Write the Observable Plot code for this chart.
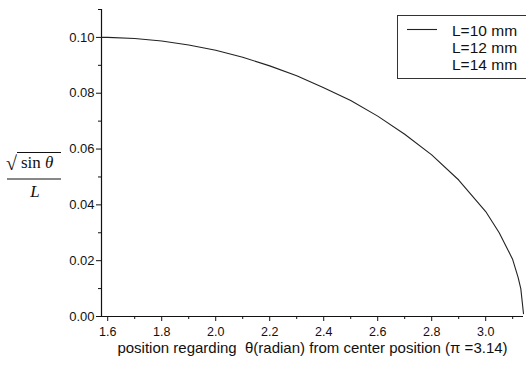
<!DOCTYPE html>
<html>
<head>
<meta charset="utf-8">
<script src="https://cdn.jsdelivr.net/npm/d3@7"></script>
<script src="https://cdn.jsdelivr.net/npm/@observablehq/plot@0.6"></script>
<style>
  html, body { margin: 0; padding: 0; background: #fff; }
  #chart svg { display: block; }
</style>
</head>
<body>
<div id="chart"></div>
<script>
// Read-off values of the visible curve (L = 10 mm)
const theta = [1.577, 1.6, 1.7, 1.8, 1.9, 2.0, 2.1, 2.2, 2.3, 2.4, 2.5, 2.6, 2.7, 2.8, 2.9, 3.0, 3.05, 3.08, 3.1, 3.12, 3.13, 3.14];
const value = [0.1000, 0.1000, 0.0996, 0.0987, 0.0973, 0.0954, 0.0929, 0.0898, 0.0863, 0.0820, 0.0774, 0.0718, 0.0653, 0.0579, 0.0489, 0.0376, 0.0300, 0.0243, 0.0204, 0.0140, 0.0100, 0.0010];
const legendLabels = ["L=10 mm", "L=12 mm", "L=14 mm"];
const yTicks = [0, 0.02, 0.04, 0.06, 0.08, 0.10];
const yMinor = [0.01, 0.03, 0.05, 0.07, 0.09, 0.11];
const xTicks = [1.6, 1.8, 2.0, 2.2, 2.4, 2.6, 2.8, 3.0];
const xMinor = [1.7, 1.9, 2.1, 2.3, 2.5, 2.7, 2.9, 3.1];
const xTitle = "position regarding  \u03b8(radian) from center position (\u03c0 =3.14)";

const data = theta.map((t, i) => ({theta: t, v: value[i]}));
const xDomain = [1.577, 3.14];

const chart = Plot.plot({
  width: 526,
  height: 369,
  marginLeft: 101,
  marginRight: 3,
  marginTop: 9,
  marginBottom: 53,
  style: {fontFamily: "'Liberation Sans', Arial, sans-serif", color: "#111", background: "#fff"},
  x: {domain: xDomain},
  y: {domain: [0, 0.11]},
  marks: [
    Plot.axisY({ticks: yTicks, tickFormat: d3.format(".2f"), tickSize: 5, tickPadding: 2, fontSize: 13, label: null, stroke: "#111"}),
    Plot.axisY({ticks: yMinor, tickFormat: () => "", tickSize: 3, label: null, stroke: "#111"}),
    Plot.axisX({ticks: xTicks, tickFormat: d3.format(".1f"), tickSize: 5, tickPadding: 6, fontSize: 12.5, label: null, stroke: "#111"}),
    Plot.axisX({ticks: xMinor, tickFormat: () => "", tickSize: 3, label: null, stroke: "#111"}),
    Plot.ruleX([xDomain[0]], {stroke: "#111", strokeWidth: 1.2}),
    Plot.ruleY([0], {stroke: "#111", strokeWidth: 1.2}),
    Plot.line(data, {x: "theta", y: "v", stroke: "#222", strokeWidth: 1.1}),
    Plot.text([xTitle], {frameAnchor: "bottom", dy: 36, fontSize: 15, fill: "#111"})
  ]
});

document.getElementById("chart").appendChild(chart);

const svg = d3.select(chart);
// Y-axis label: sqrt(sin θ) / L
const g = svg.append("g").attr("font-family", "'Liberation Serif', 'Times New Roman', serif").attr("fill", "#111").attr("text-anchor", "start");
g.append("text").attr("x", 6).attr("y", 170).attr("font-size", 20).text("\u221a");
g.append("line").attr("x1", 17).attr("x2", 61).attr("y1", 152.5).attr("y2", 152.5).attr("stroke", "#111").attr("stroke-width", 1);
const t1 = g.append("text").attr("x", 21).attr("y", 168).attr("font-size", 17);
t1.append("tspan").text("sin ");
t1.append("tspan").attr("font-style", "italic").text("\u03b8");
g.append("line").attr("x1", 7).attr("x2", 61).attr("y1", 179).attr("y2", 179).attr("stroke", "#111").attr("stroke-width", 1);
g.append("text").attr("x", 35).attr("y", 197).attr("font-size", 17).attr("font-style", "italic").attr("text-anchor", "middle").text("L");

// Legend
const lg = svg.append("g").attr("font-family", "'Liberation Sans', Arial, sans-serif").attr("fill", "#111").attr("text-anchor", "start");
lg.append("rect").attr("x", 397.5).attr("y", 15.5).attr("width", 140).attr("height", 63).attr("fill", "#fff").attr("stroke", "#333").attr("stroke-width", 1);
lg.append("line").attr("x1", 407).attr("x2", 437).attr("y1", 29.5).attr("y2", 29.5).attr("stroke", "#222").attr("stroke-width", 1.1);
legendLabels.forEach((lab, i) => {
  lg.append("text").attr("x", 452).attr("y", 31 + i * 17).attr("dy", "0.35em").attr("font-size", 15.5).text(lab);
});
</script>
</body>
</html>
